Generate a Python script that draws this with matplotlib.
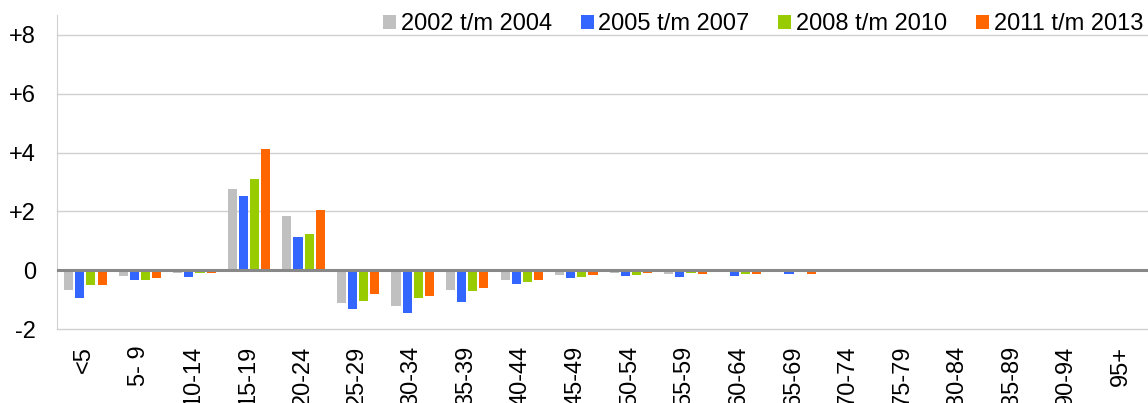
import numpy as np
import matplotlib.pyplot as plt
from matplotlib.patches import Patch

plt.rcParams['font.family'] = ['Liberation Sans', 'DejaVu Sans']

categories = ['<5', '5- 9', '10-14', '15-19', '20-24', '25-29', '30-34', '35-39',
              '40-44', '45-49', '50-54', '55-59', '60-64', '65-69', '70-74',
              '75-79', '80-84', '85-89', '90-94', '95+']
series_names = ['2002 t/m 2004', '2005 t/m 2007', '2008 t/m 2010', '2011 t/m 2013']
colors = ['#C0C0C0', '#3366FF', '#99CC00', '#FF6600']

s2002 = [-0.66, -0.20, -0.08, 2.76, 1.85, -1.13, -1.22, -0.66, -0.32, -0.16,
         -0.10, -0.13, -0.07, -0.07, -0.02, -0.01, -0.01, 0.00, 0.00, 0.00]
s2005 = [-0.94, -0.35, -0.23, 2.53, 1.12, -1.33, -1.47, -1.08, -0.48, -0.26,
         -0.21, -0.24, -0.19, -0.12, -0.02, -0.01, -0.01, 0.00, 0.00, 0.00]
s2008 = [-0.52, -0.33, -0.11, 3.09, 1.24, -1.05, -0.93, -0.72, -0.41, -0.23,
         -0.16, -0.10, -0.12, -0.07, -0.02, -0.01, -0.01, 0.05, 0.00, 0.00]
s2011 = [-0.49, -0.26, -0.09, 4.12, 2.05, -0.82, -0.89, -0.62, -0.35, -0.16,
         -0.10, -0.12, -0.14, -0.12, -0.06, -0.01, -0.01, 0.00, 0.00, 0.00]
all_series = [s2002, s2005, s2008, s2011]

yticks = [-2, 0, 2, 4, 6, 8]
ytick_labels = ['-2', '0', '+2', '+4', '+6', '+8']

fig = plt.figure(figsize=(11.48, 4.03), dpi=100)
ax = fig.add_axes([57/1148, 1 - 329/403, 1 - 57/1148, (329 - 15)/403])

x = np.arange(len(categories))
step = 0.204
for i, (vals, c) in enumerate(zip(all_series, colors)):
    ax.bar(x + 0.02 + (i - 1.5)*step, vals, width=0.167, color=c,
           linewidth=0, zorder=3)

ax.set_xlim(-0.5, len(categories) - 0.5)
ax.set_ylim(-2, 8.68)
ax.set_yticks(yticks)
ax.set_yticklabels(ytick_labels)
ax.set_xticks(x)
ax.set_xticklabels(categories, rotation=90, va='top', ha='center')
ax.tick_params(axis='both', length=0, labelsize=17)
ax.tick_params(axis='y', pad=15)
ax.tick_params(axis='x', pad=12)

ax.grid(axis='y', color='#D0D0D0', linewidth=1, zorder=0)
for gl in ax.get_ygridlines():
    gl.set_clip_on(False)
ax.axhline(0, color='#888888', linewidth=2.2, zorder=4)
for s in ['top', 'right', 'bottom']:
    ax.spines[s].set_visible(False)
ax.spines['left'].set_color('#D0D0D0')

handles = [Patch(facecolor=c, edgecolor='none') for c in colors]
fig.legend(handles, series_names, loc='center right', ncol=4,
           bbox_to_anchor=(1143/1148, 1 - 24/403), frameon=False, fontsize=17,
           handlelength=0.55, handleheight=0.55, handletextpad=0.2,
           columnspacing=1.22, borderpad=0, borderaxespad=0)

fig.savefig('out.png', dpi=100)
